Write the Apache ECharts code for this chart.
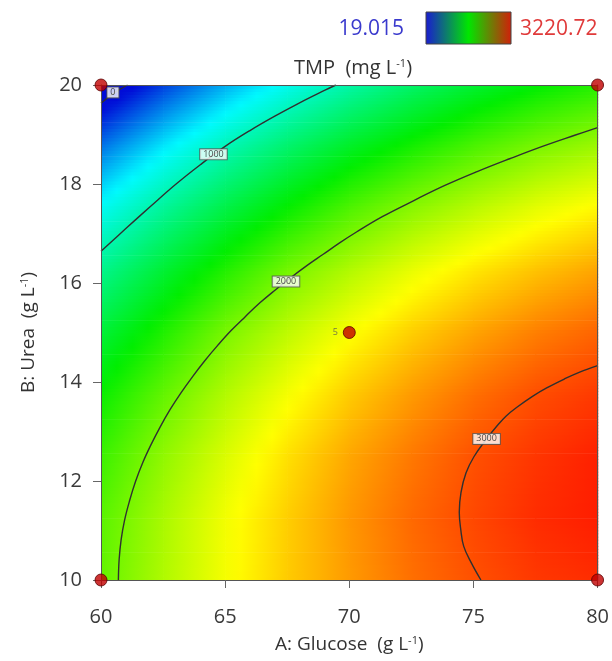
<!DOCTYPE html>
<html>
<head>
<meta charset="utf-8">
<script src="https://cdn.jsdelivr.net/npm/echarts@6/dist/echarts.min.js"></script>
<style>
  html, body { margin: 0; padding: 0; background: #fff; }
  #chart { width: 612px; height: 661px; }
</style>
</head>
<body>
<div id="chart"></div>
<script>
// grid of TMP values (rows = urea, cols = glucose)
var glucose = [60, 62.5, 65, 67.5, 70, 72.5, 75, 77.5, 80];
var urea = [10, 11.25, 12.5, 13.75, 15, 16.25, 17.5, 18.75, 20];
var tmp = [
  [1910, 2160, 2390, 2590, 2750, 2890, 2990, 3070, 3110],
  [1880, 2140, 2380, 2580, 2760, 2910, 3020, 3110, 3160],
  [1780, 2060, 2300, 2520, 2710, 2860, 2990, 3080, 3150],
  [1620, 1910, 2170, 2390, 2590, 2750, 2890, 3000, 3070],
  [1390, 1690, 1985, 2210, 2410, 2580, 2720, 2840, 2930],
  [1100, 1410, 1700, 1970, 2170, 2350, 2500, 2620, 2720],
  [740, 1060, 1350, 1610, 1850, 2040, 2200, 2340, 2450],
  [320, 650, 950, 1220, 1460, 1660, 1840, 1990, 2110],
  [-170, 170, 480, 760, 1010, 1230, 1420, 1580, 1710]
];
var tmpMin = 19.015;
var tmpMax = 3220.72;

// contour lines [glucose, urea]
var contour0 = [[60, 19.63], [60.5, 19.83], [61.07, 20]];
var contour1000 = [[60, 16.64], [61, 17.1], [62, 17.55], [63, 17.99], [64, 18.39], [65, 18.76], [66, 19.08], [67, 19.37], [68, 19.64], [69, 19.89], [69.46, 20]];
var contour2000 = [[60.7, 10], [60.73, 10.41], [60.81, 10.81], [60.95, 11.21], [61.15, 11.6], [61.39, 11.99], [61.68, 12.37], [62.01, 12.73], [62.38, 13.09], [62.78, 13.44], [63.22, 13.78], [63.69, 14.11], [64.18, 14.43], [64.7, 14.74], [65.24, 15.04], [65.81, 15.32], [66.4, 15.6], [67.02, 15.86], [67.65, 16.11], [68.29, 16.35], [68.95, 16.58], [69.61, 16.81], [70.29, 17.03], [71.33, 17.34], [72.58, 17.66], [73.85, 17.97], [75.15, 18.25], [76.46, 18.51], [77.78, 18.76], [79.11, 18.99], [80, 19.14]];
var contour3000 = [[75.3, 10], [74.91, 10.35], [74.61, 10.68], [74.49, 11.02], [74.43, 11.37], [74.5, 11.77], [74.7, 12.16], [75.02, 12.49], [75.53, 12.85], [75.93, 13.1], [76.31, 13.31], [76.78, 13.5], [77.38, 13.71], [77.95, 13.88], [78.66, 14.06], [79.28, 14.2], [80, 14.33]];
var contourLabels = [[60.48, 19.85, '0'], [64.53, 18.6, '1000'], [67.45, 16.03, '2000'], [75.53, 12.85, '3000']];

// design points
var designPoints = [[60, 10], [80, 10], [60, 20], [80, 20], [70, 15]];
var centerReps = 5;

var FONT = '"Open Sans", "Noto Sans", sans-serif';

var ramp = [
  [0, [0, 10, 215]],
  [0.21, [0, 250, 255]],
  [0.49, [0, 238, 0]],
  [0.75, [255, 255, 0]],
  [1, [255, 10, 0]]
];
function colorAt(v) {
  var t = (v - tmpMin) / (tmpMax - tmpMin);
  t = Math.max(0, Math.min(1, t));
  var k = 0;
  while (k < ramp.length - 2 && t > ramp[k + 1][0]) k++;
  var f = (t - ramp[k][0]) / (ramp[k + 1][0] - ramp[k][0]);
  var a = ramp[k][1], b = ramp[k + 1][1];
  return 'rgb(' + Math.round(a[0] + (b[0] - a[0]) * f) + ',' +
    Math.round(a[1] + (b[1] - a[1]) * f) + ',' +
    Math.round(a[2] + (b[2] - a[2]) * f) + ')';
}

var cells = [];
for (var j = 0; j < urea.length - 1; j++) {
  for (var i = 0; i < glucose.length - 1; i++) {
    cells.push([glucose[i], urea[j], i, j]);
  }
}

// draw each cell as thin strips with a horizontal gradient (smooth shading)
function renderCell(params, api) {
  var i = api.value(2), j = api.value(3);
  var v00 = tmp[j][i], v10 = tmp[j][i + 1], v01 = tmp[j + 1][i], v11 = tmp[j + 1][i + 1];
  var pA = api.coord([glucose[i], urea[j]]);
  var pB = api.coord([glucose[i + 1], urea[j + 1]]);
  var left = pA[0], right = pB[0], bottom = pA[1], top = pB[1];
  var n = 20, h = (bottom - top) / n, kids = [];
  for (var s = 0; s < n; s++) {
    var fy = (s + 0.5) / n;
    var vl = v00 + (v01 - v00) * fy, vr = v10 + (v11 - v10) * fy;
    var stops = [];
    for (var k = 0; k <= 4; k++) {
      stops.push({ offset: k / 4, color: colorAt(vl + (vr - vl) * k / 4) });
    }
    kids.push({
      type: 'rect',
      shape: { x: left, y: bottom - h * (s + 1), width: right - left + 0.7, height: h + 0.7 },
      style: { fill: new echarts.graphic.LinearGradient(0, 0, 1, 0, stops) }
    });
  }
  return { type: 'group', children: kids };
}

function contourSeries(data) {
  return {
    type: 'line', data: data, smooth: 0.4, symbol: 'none', silent: true, z: 5,
    lineStyle: { color: '#303030', width: 1.4 }
  };
}

var supRich = {
  sup: { fontSize: 11, fontFamily: FONT, color: '#333', verticalAlign: 'top', padding: [0, 0, 9, 0] }
};

var chart = echarts.init(document.getElementById('chart'));
chart.setOption({
  animation: false,
  backgroundColor: '#fff',
  grid: { left: 101, right: 14, top: 85, bottom: 81 },
  xAxis: [{
    type: 'value', min: 60, max: 80, interval: 5, z: 10,
    name: 'A: Glucose  (g L{sup|-1})', nameLocation: 'middle', nameGap: 55,
    nameTextStyle: { fontSize: 19, fontFamily: FONT, color: '#333', rich: supRich },
    axisLine: { lineStyle: { color: '#555', width: 1 } },
    axisTick: { inside: false, length: 8, lineStyle: { color: '#666' } },
    axisLabel: { fontSize: 20, fontFamily: FONT, color: '#3a3a3a', margin: 27 },
    splitLine: { show: false }
  }, {
    type: 'value', min: 60, max: 80, position: 'top', z: 10,
    axisLine: { show: true, lineStyle: { color: '#555', width: 1 } },
    axisTick: { show: false }, axisLabel: { show: false }, splitLine: { show: false }
  }],
  yAxis: [{
    type: 'value', min: 10, max: 20, interval: 2, z: 10,
    name: 'B: Urea  (g L{sup|-1})', nameLocation: 'middle', nameGap: 62,
    nameTextStyle: { fontSize: 19, fontFamily: FONT, color: '#333', rich: supRich },
    axisLine: { show: true, lineStyle: { color: '#555', width: 1 } },
    axisTick: { show: true, inside: false, length: 8, lineStyle: { color: '#666' } },
    axisLabel: { fontSize: 20, fontFamily: FONT, color: '#3a3a3a', margin: 19 },
    splitLine: { show: false }
  }, {
    type: 'value', min: 10, max: 20, position: 'right', z: 10,
    axisLine: { show: true, lineStyle: { color: '#555', width: 1 } },
    axisTick: { show: false }, axisLabel: { show: false }, splitLine: { show: false }
  }],
  graphic: [
    {
      type: 'text', x: 353, y: 68, z: 10,
      style: {
        text: 'TMP  (mg L{sup|-1})', fontSize: 20, fontFamily: FONT, fill: '#333',
        align: 'center', verticalAlign: 'middle', rich: supRich
      }
    },
    {
      type: 'rect', x: 426, y: 12, z: 10,
      shape: { width: 85, height: 32 },
      style: {
        fill: new echarts.graphic.LinearGradient(0, 0, 1, 0, [
          { offset: 0, color: '#1a1ad2' }, { offset: 0.5, color: '#00e600' }, { offset: 1, color: '#d21e0a' }
        ]),
        stroke: '#444', lineWidth: 1
      }
    },
    {
      type: 'text', x: 404, y: 29, z: 10,
      style: { text: String(tmpMin), fontSize: 21, fontFamily: FONT, fill: '#3a3acd', align: 'right', verticalAlign: 'middle' }
    },
    {
      type: 'text', x: 520, y: 29, z: 10,
      style: { text: String(tmpMax), fontSize: 21, fontFamily: FONT, fill: '#e03a3a', align: 'left', verticalAlign: 'middle' }
    }
  ],
  series: [
    { type: 'custom', data: cells, renderItem: renderCell, silent: true, z: 1 },
    contourSeries(contour0),
    contourSeries(contour1000),
    contourSeries(contour2000),
    contourSeries(contour3000),
    {
      type: 'scatter', data: contourLabels, symbolSize: 0, silent: true, z: 6,
      label: {
        show: true, position: 'inside', formatter: function (p) { return p.value[2]; },
        fontSize: 9, fontFamily: FONT, color: '#222', backgroundColor: '#fff',
        borderColor: '#555', borderWidth: 1, padding: [1, 3, 0, 3]
      }
    },
    {
      type: 'scatter', silent: true, z: 20, symbolSize: 12,
      itemStyle: { color: '#c00000', borderColor: '#5a0000', borderWidth: 1 },
      data: designPoints.map(function (p, k) {
        var item = { value: p };
        if (k === designPoints.length - 1) {
          item.label = { show: true, position: 'left', distance: 5, formatter: String(centerReps), fontSize: 9, fontFamily: FONT, color: '#555' };
        }
        return item;
      })
    }
  ]
});
</script>
</body>
</html>
